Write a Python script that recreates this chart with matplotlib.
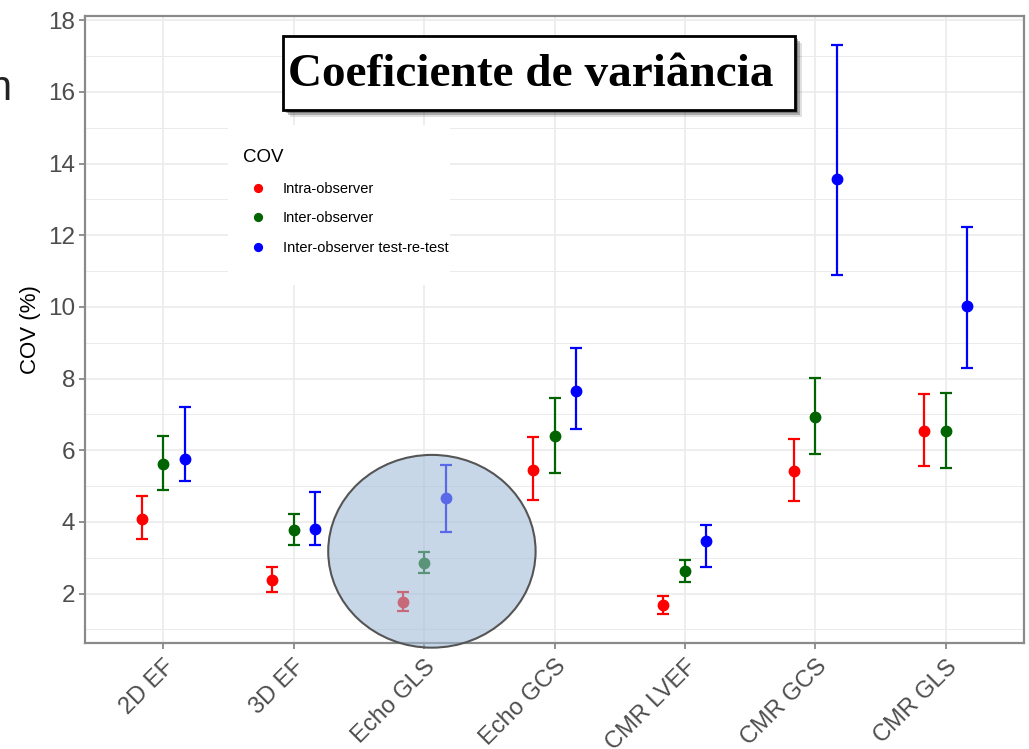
import matplotlib
matplotlib.use("Agg")
import matplotlib.pyplot as plt
from matplotlib.patches import Ellipse, Rectangle
from matplotlib.transforms import Bbox, TransformedBbox
import numpy as np

plt.rcParams["font.family"] = ["Liberation Sans", "DejaVu Sans"]

# measures on the x axis
measures = ["2D EF", "3D EF", "Echo GLS", "Echo GCS", "CMR LVEF", "CMR GCS", "CMR GLS"]

# series names and colours
series = ["Intra-observer", "Inter-observer", "Inter-observer test-re-test"]
colors = ["#FF0000", "#006400", "#0000FF"]

# COV (%) point estimates and interval limits, one list per series
intra_cov = [4.08, 2.37, 1.76, 5.46, 1.67, 5.41, 6.54]
intra_lo = [3.51, 2.04, 1.51, 4.62, 1.42, 4.57, 5.57]
intra_hi = [4.71, 2.75, 2.04, 6.37, 1.94, 6.32, 7.58]

inter_cov = [5.62, 3.76, 2.86, 6.41, 2.62, 6.93, 6.54]
inter_lo = [4.88, 3.35, 2.56, 5.36, 2.33, 5.89, 5.50]
inter_hi = [6.41, 4.22, 3.17, 7.46, 2.95, 8.01, 7.60]

retest_cov = [5.75, 3.80, 4.68, 7.66, 3.48, 13.58, 10.03]
retest_lo = [5.15, 3.35, 3.73, 6.59, 2.73, 10.88, 8.30]
retest_hi = [7.22, 4.84, 5.59, 8.86, 3.92, 17.32, 12.22]

yticks = [2, 4, 6, 8, 10, 12, 14, 16, 18]

W, H = 1029, 749


def fig_box(x0, y0, x1, y1):
    # pixel box (top-left origin) -> figure fraction rectangle
    return x0 / W, 1 - y1 / H, (x1 - x0) / W, (y1 - y0) / H


fig = plt.figure(figsize=(W / 100, H / 100), dpi=100)
ax = fig.add_axes(fig_box(85, 16, 1024, 643))

x = np.arange(1, len(measures) + 1)
offsets = [-0.165, 0.0, 0.165]
all_series = [(intra_cov, intra_lo, intra_hi),
              (inter_cov, inter_lo, inter_hi),
              (retest_cov, retest_lo, retest_hi)]

for (cov, lo, hi), off, col, name in zip(all_series, offsets, colors, series):
    cov = np.array(cov)
    err = np.vstack([cov - np.array(lo), np.array(hi) - cov])
    ax.errorbar(x + off, cov, yerr=err, fmt="none", ecolor=col,
                elinewidth=1.6, capsize=4, capthick=1.6, zorder=3)
    ax.plot(x + off, cov, "o", color=col, markersize=7.5, label=name, zorder=4)

ax.set_xlim(0.4, 7.6)
ax.set_ylim(0.62, 18.12)
ax.set_xticks(x)
ax.set_xticklabels(measures, rotation=45, ha="right", rotation_mode="anchor")
ax.set_yticks(yticks)
ax.set_yticks(np.arange(1, 19, 2), minor=True)
ax.tick_params(axis="both", which="major", labelsize=17, labelcolor="#4D4D4D",
               color="#7F7F7F", length=4, width=1.2)
ax.tick_params(axis="y", labelsize=17.5)
ax.tick_params(axis="x", pad=5)
ax.tick_params(axis="y", pad=3)
ax.tick_params(axis="y", which="minor", length=0)
ax.set_ylabel("COV (%)", fontsize=16, color="black")
ax.yaxis.set_label_coords(-44 / 939, 0.5)

ax.set_axisbelow(True)
ax.grid(True, which="major", color="#EBEBEB", linewidth=1.2)
ax.grid(True, which="minor", axis="y", color="#EBEBEB", linewidth=0.7)
for s in ax.spines.values():
    s.set_color("#8A8A8A")
    s.set_linewidth(1.6)

# white legend panel hiding the grid
leg_rect = Rectangle(fig_box(228, 125, 450, 285)[:2], 222 / W, 160 / H,
                     transform=fig.transFigure, facecolor="white",
                     edgecolor="none", zorder=2.5)
ax.add_patch(leg_rect)

leg = ax.legend(loc="upper left", bbox_to_anchor=(243 / W, 1 - 149 / H),
                bbox_transform=fig.transFigure, frameon=False, title="COV",
                fontsize=10.5, title_fontsize=13.5, alignment="left",
                handlelength=2.05, handletextpad=0.7, labelspacing=1.08,
                markerscale=0.75, borderpad=0, borderaxespad=0)
leg.set_zorder(6)
clip = TransformedBbox(Bbox.from_bounds(*fig_box(228, 125, 450, 285)),
                       fig.transFigure)
for t in leg.get_texts():
    t.set_clip_on(True)
    t.set_clip_box(clip)

# highlight circle over Echo GLS
circ = Ellipse((3.06, 3.18), 1.59, 5.38, facecolor="#9EBAD6", alpha=0.57,
               edgecolor="none", zorder=7, clip_on=False)
ax.add_patch(circ)
circ_edge = Ellipse((3.06, 3.18), 1.59, 5.38, facecolor="none",
                    edgecolor="#555555", linewidth=1.5, zorder=8, clip_on=False)
ax.add_patch(circ_edge)

# title box with drop shadow
for d, a in [(7, 0.15), (5, 0.3), (3, 0.4)]:
    fig.patches.append(Rectangle(fig_box(283 + d, 36 + d, 795 + d, 110 + d)[:2],
                                 512 / W, 74 / H, transform=fig.transFigure,
                                 facecolor="#333333", edgecolor="none", alpha=a,
                                 zorder=1))
fig.patches.append(Rectangle(fig_box(283, 36, 795, 110)[:2], 512 / W, 74 / H,
                             transform=fig.transFigure, facecolor="white",
                             edgecolor="black", linewidth=2, zorder=2))
fig.text(531 / W, 1 - 75 / H, "Coeficiente de variância", ha="center",
         va="center", fontsize=34, fontweight="bold",
         family="Liberation Serif", zorder=3)

# leftover letter at the slide edge
fig.text(11 / W, 1 - 100 / H, "n", ha="right", va="baseline", fontsize=30,
         color="#222222")

fig.savefig("out.png", dpi=100)
